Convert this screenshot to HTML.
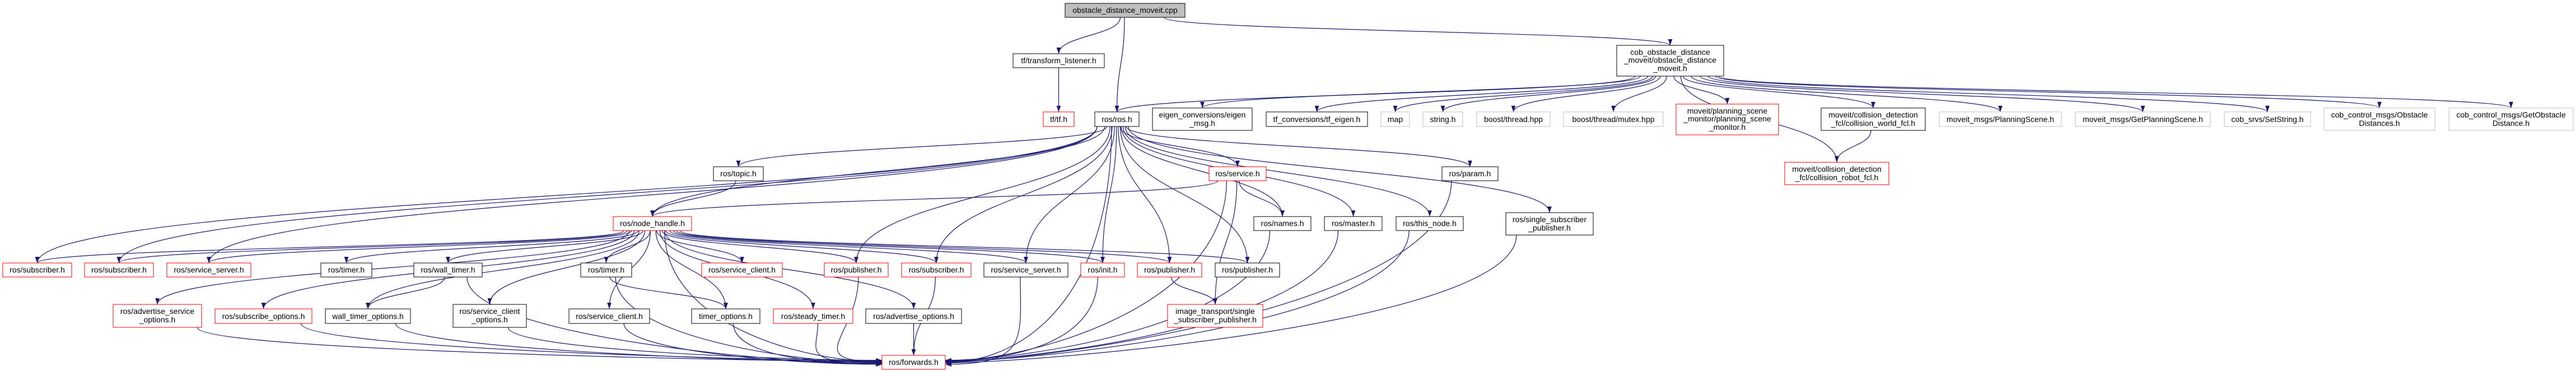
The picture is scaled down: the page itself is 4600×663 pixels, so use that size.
<!DOCTYPE html>
<html><head><meta charset="utf-8">
<style>
html,body{margin:0;padding:0;background:#fff;width:4600px;height:663px;overflow:hidden}
svg text{font-family:"Liberation Sans",sans-serif;font-size:14px;fill:#000;text-anchor:middle}
</style></head>
<body>
<svg id="g" xmlns="http://www.w3.org/2000/svg" width="4600" height="663" viewBox="0 0 4600 663">
<defs><marker id="ar" viewBox="0 0 10 7" markerWidth="11" markerHeight="8" markerUnits="userSpaceOnUse" refX="10" refY="3.5" orient="auto"><path d="M0,0 L10,3.5 L0,7 z" fill="#191970"/></marker></defs>
<g id="edges" fill="none" stroke="#191970" stroke-width="1.2"></g>
<g id="nodes">
<rect x="1902" y="6" width="214" height="25" fill="#bfbfbf" stroke="#000"/><text x="2009" y="23">obstacle_distance_moveit.cpp</text>
<rect x="1809" y="96" width="163" height="25" fill="#fff" stroke="#000"/><text x="1890.5" y="113">tf/transform_listener.h</text>
<rect x="1863" y="200" width="55" height="26" fill="#fff" stroke="#f00"/><text x="1890.5" y="218">tf/tf.h</text>
<rect x="1955" y="200" width="79" height="26" fill="#fff" stroke="#000"/><text x="1994.5" y="218">ros/ros.h</text>
<rect x="2058" y="193" width="178" height="40" fill="#fff" stroke="#000"/><text x="2147" y="210">eigen_conversions/eigen</text><text x="2147" y="225">_msg.h</text>
<rect x="2261" y="200" width="181" height="26" fill="#fff" stroke="#000"/><text x="2351.5" y="218">tf_conversions/tf_eigen.h</text>
<rect x="2466" y="200" width="51" height="26" fill="#fff" stroke="#bfbfbf"/><text x="2491.5" y="218">map</text>
<rect x="2541" y="200" width="71" height="26" fill="#fff" stroke="#bfbfbf"/><text x="2576.5" y="218">string.h</text>
<rect x="2637" y="200" width="131" height="26" fill="#fff" stroke="#bfbfbf"/><text x="2702.5" y="218">boost/thread.hpp</text>
<rect x="2792" y="200" width="178" height="26" fill="#fff" stroke="#bfbfbf"/><text x="2881" y="218">boost/thread/mutex.hpp</text>
<rect x="2993" y="186" width="183" height="55" fill="#fff" stroke="#f00"/><text x="3084.5" y="203">moveit/planning_scene</text><text x="3084.5" y="217">_monitor/planning_scene</text><text x="3084.5" y="232">_monitor.h</text>
<rect x="3252" y="193" width="186" height="40" fill="#fff" stroke="#000"/><text x="3345" y="210">moveit/collision_detection</text><text x="3345" y="225">_fcl/collision_world_fcl.h</text>
<rect x="3463" y="200" width="218" height="26" fill="#fff" stroke="#bfbfbf"/><text x="3572" y="218">moveit_msgs/PlanningScene.h</text>
<rect x="3706" y="200" width="241" height="26" fill="#fff" stroke="#bfbfbf"/><text x="3826.5" y="218">moveit_msgs/GetPlanningScene.h</text>
<rect x="3972" y="200" width="154" height="26" fill="#fff" stroke="#bfbfbf"/><text x="4049" y="218">cob_srvs/SetString.h</text>
<rect x="4150" y="193" width="198" height="40" fill="#fff" stroke="#bfbfbf"/><text x="4249" y="210">cob_control_msgs/Obstacle</text><text x="4249" y="225">Distances.h</text>
<rect x="4373" y="193" width="222" height="40" fill="#fff" stroke="#bfbfbf"/><text x="4484" y="210">cob_control_msgs/GetObstacle</text><text x="4484" y="225">Distance.h</text>
<rect x="2887" y="81" width="191" height="55" fill="#fff" stroke="#000"/><text x="2982.5" y="98">cob_obstacle_distance</text><text x="2982.5" y="112">_moveit/obstacle_distance</text><text x="2982.5" y="127">_moveit.h</text>
<rect x="3187" y="290" width="186" height="40" fill="#fff" stroke="#f00"/><text x="3280" y="307">moveit/collision_detection</text><text x="3280" y="322">_fcl/collision_robot_fcl.h</text>
<rect x="2159" y="298" width="102" height="25" fill="#fff" stroke="#f00"/><text x="2210" y="315">ros/service.h</text>
<rect x="1274" y="298" width="89" height="25" fill="#fff" stroke="#000"/><text x="1318.5" y="315">ros/topic.h</text>
<rect x="2575" y="298" width="100" height="25" fill="#fff" stroke="#000"/><text x="2625" y="315">ros/param.h</text>
<rect x="1095" y="387" width="140" height="25" fill="#fff" stroke="#f00"/><text x="1165" y="404">ros/node_handle.h</text>
<rect x="2239" y="387" width="102" height="25" fill="#fff" stroke="#000"/><text x="2290" y="404">ros/names.h</text>
<rect x="2365" y="387" width="103" height="25" fill="#fff" stroke="#000"/><text x="2416.5" y="404">ros/master.h</text>
<rect x="2493" y="387" width="120" height="25" fill="#fff" stroke="#000"/><text x="2553" y="404">ros/this_node.h</text>
<rect x="2689" y="380" width="156" height="40" fill="#fff" stroke="#000"/><text x="2767" y="397">ros/single_subscriber</text><text x="2767" y="412">_publisher.h</text>
<rect x="5" y="470" width="123" height="25" fill="#fff" stroke="#f00"/><text x="66.5" y="487">ros/subscriber.h</text>
<rect x="151" y="470" width="123" height="25" fill="#fff" stroke="#f00"/><text x="212.5" y="487">ros/subscriber.h</text>
<rect x="298" y="470" width="150" height="25" fill="#fff" stroke="#f00"/><text x="373" y="487">ros/service_server.h</text>
<rect x="573" y="470" width="91" height="25" fill="#fff" stroke="#000"/><text x="618.5" y="487">ros/timer.h</text>
<rect x="739" y="470" width="122" height="25" fill="#fff" stroke="#000"/><text x="800" y="487">ros/wall_timer.h</text>
<rect x="1037" y="470" width="91" height="25" fill="#fff" stroke="#000"/><text x="1082.5" y="487">ros/timer.h</text>
<rect x="1253" y="470" width="144" height="25" fill="#fff" stroke="#f00"/><text x="1325" y="487">ros/service_client.h</text>
<rect x="1472" y="470" width="114" height="25" fill="#fff" stroke="#f00"/><text x="1529" y="487">ros/publisher.h</text>
<rect x="1610" y="470" width="124" height="25" fill="#fff" stroke="#f00"/><text x="1672" y="487">ros/subscriber.h</text>
<rect x="1757" y="470" width="150" height="25" fill="#fff" stroke="#000"/><text x="1832" y="487">ros/service_server.h</text>
<rect x="1930" y="470" width="78" height="25" fill="#fff" stroke="#f00"/><text x="1969" y="487">ros/init.h</text>
<rect x="2031" y="470" width="115" height="25" fill="#fff" stroke="#f00"/><text x="2088.5" y="487">ros/publisher.h</text>
<rect x="2170" y="470" width="115" height="25" fill="#fff" stroke="#000"/><text x="2227.5" y="487">ros/publisher.h</text>
<rect x="202" y="544" width="158" height="41" fill="#fff" stroke="#f00"/><text x="281" y="561">ros/advertise_service</text><text x="281" y="576">_options.h</text>
<rect x="384" y="552" width="173" height="26" fill="#fff" stroke="#f00"/><text x="470.5" y="570">ros/subscribe_options.h</text>
<rect x="581" y="552" width="152" height="26" fill="#fff" stroke="#000"/><text x="657" y="570">wall_timer_options.h</text>
<rect x="809" y="544" width="131" height="41" fill="#fff" stroke="#000"/><text x="874.5" y="561">ros/service_client</text><text x="874.5" y="576">_options.h</text>
<rect x="1016" y="552" width="144" height="26" fill="#fff" stroke="#000"/><text x="1088" y="570">ros/service_client.h</text>
<rect x="1235" y="552" width="122" height="26" fill="#fff" stroke="#000"/><text x="1296" y="570">timer_options.h</text>
<rect x="1381" y="552" width="142" height="26" fill="#fff" stroke="#f00"/><text x="1452" y="570">ros/steady_timer.h</text>
<rect x="1546" y="552" width="171" height="26" fill="#fff" stroke="#000"/><text x="1631.5" y="570">ros/advertise_options.h</text>
<rect x="2085" y="544" width="170" height="41" fill="#fff" stroke="#f00"/><text x="2170" y="561">image_transport/single</text><text x="2170" y="576">_subscriber_publisher.h</text>
<rect x="1575" y="635" width="113" height="25" fill="#fff" stroke="#f00"/><text x="1631.5" y="652">ros/forwards.h</text>
</g>
</svg>
<script>
var N={cpp:[1902,2116,6,31],tl:[1809,1972,96,121],tf:[1863,1918,200,226],ros:[1955,2034,200,226],eig:[2058,2236,193,233],tfe:[2261,2442,200,226],map:[2466,2517,200,226],str:[2541,2612,200,226],bth:[2637,2768,200,226],bmx:[2792,2970,200,226],psm:[2993,3176,186,241],cwf:[3252,3438,193,233],psc:[3463,3681,200,226],gps:[3706,3947,200,226],sst:[3972,4126,200,226],cod:[4150,4348,193,233],god:[4373,4595,193,233],cob:[2887,3078,81,136],crf:[3187,3373,290,330],srv:[2159,2261,298,323],top:[1274,1363,298,323],prm:[2575,2675,298,323],nh:[1095,1235,387,412],nam:[2239,2341,387,412],mst:[2365,2468,387,412],tn:[2493,2613,387,412],ssp:[2689,2845,380,420],sub1:[5,128,470,495],sub2:[151,274,470,495],ssr:[298,448,470,495],tm1:[573,664,470,495],wt:[739,861,470,495],tm2:[1037,1128,470,495],sc:[1253,1397,470,495],pub1:[1472,1586,470,495],sub3:[1610,1734,470,495],ss2:[1757,1907,470,495],ini:[1930,2008,470,495],pub2:[2031,2146,470,495],pub3:[2170,2285,470,495],aso:[202,360,544,585],subo:[384,557,552,578],wto:[581,733,552,578],sco:[809,940,544,585],sc2:[1016,1160,552,578],to:[1235,1357,552,578],st:[1381,1523,552,578],ao:[1546,1717,552,578],itp:[2085,2255,544,585],fw:[1575,1688,635,660]};
var E=[["cpp","tl"],["cpp","ros"],["cpp","cob"],["tl","tf"],
["cob","ros"],["cob","eig"],["cob","tfe"],["cob","map"],["cob","str"],["cob","bth"],["cob","bmx"],["cob","psm"],["cob","cwf"],["cob","crf"],["cob","psc"],["cob","gps"],["cob","sst"],["cob","cod"],["cob","god"],["cwf","crf"],
["ros","sub1"],["ros","sub2"],["ros","ssr"],["ros","nh"],["ros","top"],["ros","srv"],["ros","nam"],["ros","mst"],["ros","tn"],["ros","prm"],["ros","ssp"],["ros","sub3"],["ros","ss2"],["ros","ini"],["ros","pub2"],["ros","pub3"],["ros","pub1"],["ros","fw"],
["top","nh"],["srv","nh"],["srv","nam"],["srv","itp"],["srv","fw"],
["nh","sub1"],["nh","sub2"],["nh","ssr"],["nh","tm1"],["nh","wt"],["nh","wto"],["nh","aso"],["nh","subo"],["nh","sco"],["nh","sc2"],["nh","tm2"],["nh","to"],["nh","sc"],["nh","st"],["nh","pub1"],["nh","ao"],["nh","sub3"],["nh","ss2"],["nh","ini"],["nh","pub2"],["nh","pub3"],["nh","fw"],
["tm2","to"],["tm2","fw"],["wt","wto"],["wt","fw"],["nam","fw"],["mst","fw"],["tn","fw"],["prm","fw"],["ssp","fw"],
["sub3","fw"],["ss2","fw"],["ini","fw"],["pub2","itp"],["pub1","fw"],["ao","fw"],["st","fw"],["to","fw"],["sc2","fw"],["sco","fw"],["subo","fw"],["aso","fw"],["wto","fw"]];
var g=document.getElementById("edges"),ns="http://www.w3.org/2000/svg",k=0;
E.forEach(function(e){var s=N[e[0]],t=N[e[1]];k++;
var cx=(s[0]+s[1])/2,w=s[1]-s[0],tx=(t[0]+t[1])/2,ty=t[2];
var dx=tx-cx;
var sx=cx+Math.max(-0.45,Math.min(0.45,dx/3000))*w,sy=s[3],d;
if(e[1]=="fw"&&(sx<t[0]-40||sx>t[1]+40)){
 var left=sx<t[0];tx=left?t[0]:t[1];ty=(t[2]+t[3])/2+((k%7)-3)*1.2;
 d="M"+sx+","+sy+" C"+sx+","+(sy+(ty-sy)*0.7)+" "+(tx+(left?-150:150))+","+ty+" "+tx+","+ty;
}else if(t[2]<s[2]+10){
 sy=(s[2]+s[3])/2;sx=dx<0?s[0]:s[1];
 d="M"+sx+","+sy+" C"+(sx+dx*0.5)+","+sy+" "+tx+","+(ty-40)+" "+tx+","+ty;
}else{
 var h=(ty-sy);
 d="M"+sx+","+sy+" C"+sx+","+(sy+h*0.5)+" "+tx+","+(ty-h*0.5)+" "+tx+","+ty;
}
var p=document.createElementNS(ns,"path");p.setAttribute("d",d);p.setAttribute("marker-end","url(#ar)");g.appendChild(p);});
</script>
</body></html>
